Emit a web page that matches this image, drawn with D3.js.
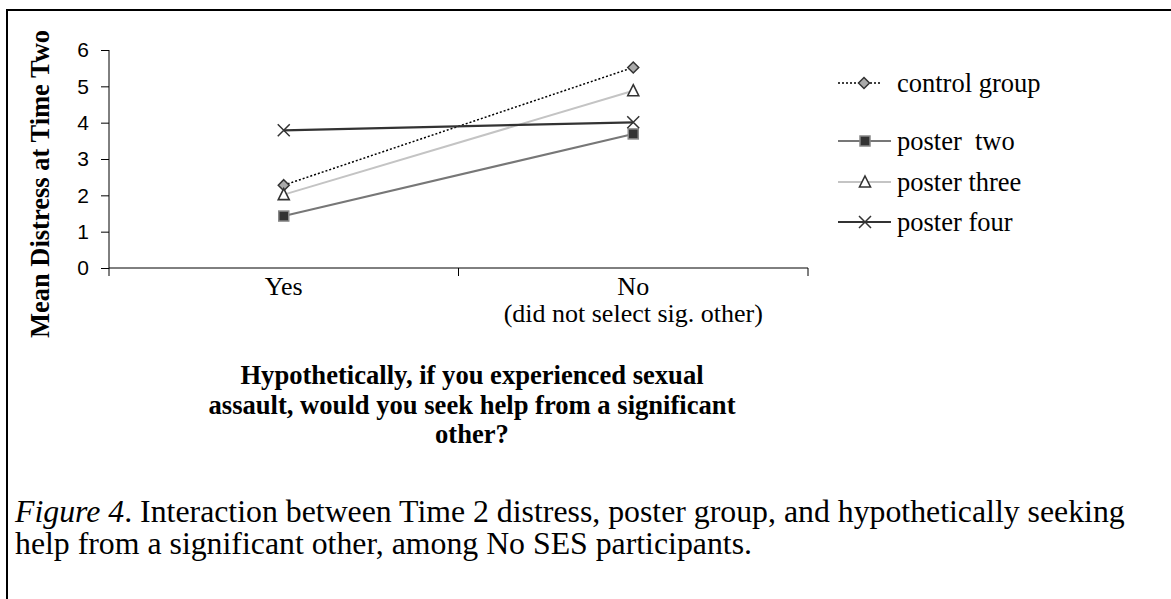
<!DOCTYPE html>
<html><head><meta charset="utf-8">
<script src="https://cdn.jsdelivr.net/npm/d3@7"></script>
<style>body{margin:0;background:#fff}svg{display:block}</style>
</head><body>
<script>
const categories = ["Yes", "No"];
const categorySubLabels = ["", "(did not select sig. other)"];
const seriesNames = ["control group", "poster  two", "poster three", "poster four"];
const controlGroup = [2.28, 5.52];
const posterTwo = [1.43, 3.69];
const posterThree = [2.02, 4.88];
const posterFour = [3.79, 4.01];
const yTicks = [0, 1, 2, 3, 4, 5, 6];
const yTitle = "Mean Distress at Time Two";
const xTitleLines = ["Hypothetically, if you experienced sexual", "assault, would you seek help from a significant", "other?"];

const W = 1171, H = 599;
const svg = d3.select("body").append("svg").attr("width", W).attr("height", H);
const serif = "'Liberation Serif','Times New Roman',serif";
const sans = "'Liberation Sans',Arial,sans-serif";

// outer frame
svg.append("path").attr("d", `M7,${H+5} L7,10 L${W+5},10`).attr("fill","none").attr("stroke","#000").attr("stroke-width",2);

const x = d3.scaleBand().domain(categories).range([109, 808]);
const y = d3.scaleLinear().domain([0, 6]).range([268, 50]);

const yAxis = svg.append("g").attr("transform","translate(109,0)")
  .call(d3.axisLeft(y).tickValues(yTicks).tickFormat(d3.format("d")).tickSize(8).tickPadding(12));
yAxis.select(".domain").attr("stroke","#000").attr("d","M0,50V268");
yAxis.selectAll("text").attr("font-family", sans).attr("font-size", 21).attr("fill","#000");

const xAxis = svg.append("g").attr("transform","translate(0,268)")
  .call(d3.axisBottom(x).tickSize(0).tickFormat(""));
xAxis.select(".domain").attr("d","M109,0H808");
// boundary ticks
const bounds = [x.range()[0], x(categories[1]), x.range()[1]];
svg.append("g").selectAll("line").data(bounds).join("line")
  .attr("x1", d=>d).attr("x2", d=>d).attr("y1",268).attr("y2",276).attr("stroke","#000");

svg.append("g").selectAll("text").data(categories).join("text")
  .attr("x", d=>x(d)+x.bandwidth()/2).attr("y", 295)
  .attr("text-anchor","middle").attr("font-family", serif).attr("font-size", 26).text(d=>d);
svg.append("g").selectAll("text").data(categorySubLabels).join("text")
  .attr("x", (d,i)=>x(categories[i])+x.bandwidth()/2).attr("y", 322)
  .attr("text-anchor","middle").attr("font-family", serif).attr("font-size", 26).text(d=>d);

// y title
svg.append("text").attr("transform","translate(49,184) rotate(-90)")
  .attr("text-anchor","middle").attr("font-family", serif).attr("font-weight","bold")
  .attr("font-size", 26.5).text(yTitle);

// x title
svg.append("g").selectAll("text").data(xTitleLines).join("text")
  .attr("x", 472).attr("y",(d,i)=>384+i*29.5).attr("text-anchor","middle")
  .attr("font-family", serif).attr("font-weight","bold").attr("font-size", 26.6).text(d=>d);

// caption
const cap = svg.append("g").attr("font-family", serif).attr("font-size", 31.8);
const c1 = cap.append("text").attr("x",15).attr("y",522);
c1.append("tspan").attr("font-style","italic").text("Figure 4");
c1.append("tspan").text(". Interaction between Time 2 distress, poster group, and hypothetically seeking");
cap.append("text").attr("x",15).attr("y",554).text("help from a significant other, among No SES participants.");

const series = [
  {name: seriesNames[0], values: controlGroup, stroke:"#000", width:1.5, dash:"2,2", marker:"diamond", mfill:"#aaa", mstroke:"#333"},
  {name: seriesNames[1], values: posterTwo, stroke:"#777", width:2, dash:null, marker:"square", mfill:"#333", mstroke:"#888"},
  {name: seriesNames[2], values: posterThree, stroke:"#c4c4c4", width:2, dash:null, marker:"triangle", mfill:"#fff", mstroke:"#333"},
  {name: seriesNames[3], values: posterFour, stroke:"#333", width:2.2, dash:null, marker:"cross", mfill:"none", mstroke:"#333"}
];

function drawMarker(g, type, cx, cy, s) {
  if (type === "diamond") {
    g.append("path").attr("d", `M${cx},${cy-5.5}L${cx+5.5},${cy}L${cx},${cy+5.5}L${cx-5.5},${cy}Z`)
      .attr("fill", s.mfill).attr("stroke", s.mstroke).attr("stroke-width",1.5);
  } else if (type === "square") {
    g.append("rect").attr("x",cx-5).attr("y",cy-5).attr("width",10).attr("height",10)
      .attr("fill", s.mfill).attr("stroke", s.mstroke).attr("stroke-width",1.5);
  } else if (type === "triangle") {
    g.append("path").attr("d", `M${cx},${cy-6}L${cx+5.5},${cy+5}L${cx-5.5},${cy+5}Z`)
      .attr("fill", s.mfill).attr("stroke", s.mstroke).attr("stroke-width",1.6);
  } else if (type === "cross") {
    g.append("path").attr("d", `M${cx-6},${cy-6}L${cx+6},${cy+6}M${cx+6},${cy-6}L${cx-6},${cy+6}`)
      .attr("stroke", s.mstroke).attr("stroke-width",1.5).attr("fill","none");
  }
}

const line = d3.line().x((d,i)=>x(categories[i])+x.bandwidth()/2).y(d=>y(d));
const plot = svg.append("g");
series.forEach(s=>{
  plot.append("path").datum(s.values).attr("d", line).attr("fill","none")
    .attr("stroke", s.stroke).attr("stroke-width", s.width).attr("stroke-dasharray", s.dash);
});
series.forEach(s=>{
  s.values.forEach((v,i)=>drawMarker(plot, s.marker, x(categories[i])+x.bandwidth()/2, y(v), s));
});

// legend
const legYs = [83, 141, 182, 222];
const leg = svg.append("g");
series.forEach((s,i)=>{
  const ly = legYs[i];
  const x1 = 838, x2 = i===0 ? 882 : 891;
  leg.append("line").attr("x1",x1).attr("x2",x2).attr("y1",ly).attr("y2",ly)
    .attr("stroke", s.stroke).attr("stroke-width", s.width).attr("stroke-dasharray", s.dash);
  drawMarker(leg, s.marker, i===0 ? 864 : 865, ly, s);
  leg.append("text").attr("x",897).attr("y",ly+9).attr("font-family", serif).attr("font-size",26.5)
    .attr("xml:space","preserve").style("white-space","pre").text(s.name);
});
</script>
</body></html>
